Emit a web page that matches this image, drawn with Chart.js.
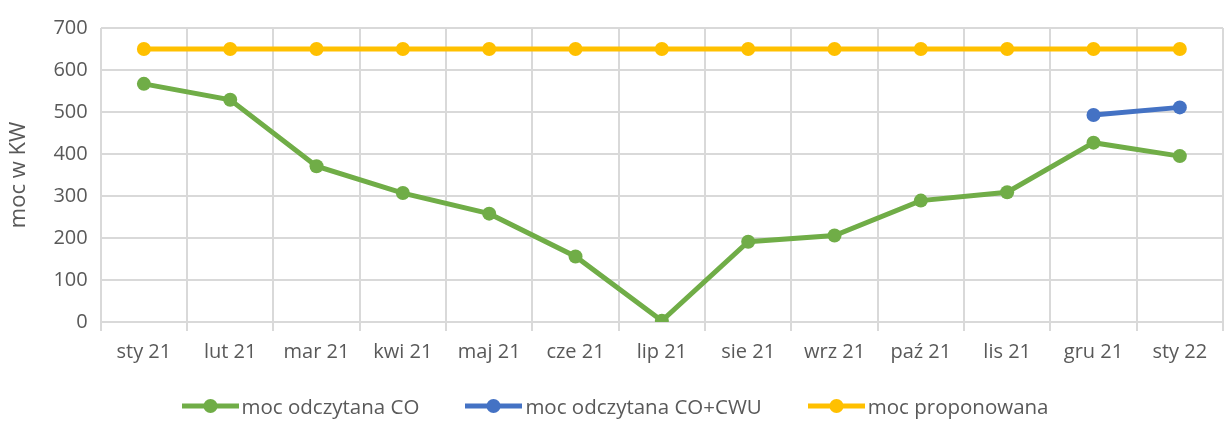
<!DOCTYPE html>
<html>
<head>
<meta charset="utf-8">
<script src="https://cdn.jsdelivr.net/npm/chart.js@4"></script>
<style>
  html, body { margin: 0; padding: 0; background: #fff; }
  #wrap { position: relative; width: 1230px; height: 430px; }
  #legend {
    position: absolute; left: 0; top: 392px; width: 1230px; height: 28px;
    display: flex; justify-content: center; align-items: center; gap: 46px;
    font-family: 'Open Sans', sans-serif; font-size: 20.5px; color: #595959;
  }
  #legend .item { display: flex; align-items: center; gap: 3px; white-space: nowrap; }
  #legend canvas { display: block; }
</style>
</head>
<body>
<div id="wrap">
  <canvas id="line-chart" width="1230" height="430"></canvas>
  <div id="legend"></div>
</div>
<script>
// data
const months = ["sty 21", "lut 21", "mar 21", "kwi 21", "maj 21", "cze 21", "lip 21",
                "sie 21", "wrz 21", "paź 21", "lis 21", "gru 21", "sty 22"];
const mocCO = [567, 529, 371, 307, 258, 156, 3, 191, 206, 289, 309, 427, 395];
const mocCOCWU = [null, null, null, null, null, null, null, null, null, null, null, 493, 511];
const mocProp = [650, 650, 650, 650, 650, 650, 650, 650, 650, 650, 650, 650, 650];
const yTicks = [0, 100, 200, 300, 400, 500, 600, 700];

const GREEN = "#70AD47", BLUE = "#4472C4", YELLOW = "#FFC000";
const FONT = "'Open Sans', sans-serif";
const TEXT = "#595959";

function series(label, data, color) {
    return {
        label: label,
        data: data,
        borderColor: color,
        backgroundColor: color,
        borderWidth: 5,
        pointRadius: 7,
        pointHoverRadius: 7,
        pointBorderWidth: 0,
        tension: 0,
        spanGaps: false
    };
}

const chart = new Chart(document.getElementById("line-chart"), {
    type: 'line',
    data: {
        labels: months,
        datasets: [
            series("moc odczytana CO", mocCO, GREEN),
            series("moc odczytana CO+CWU", mocCOCWU, BLUE),
            series("moc proponowana", mocProp, YELLOW)
        ]
    },
    options: {
        responsive: false,
        animation: false,
        layout: { padding: { left: 6, right: 5, top: 28, bottom: 57 } },
        plugins: {
            legend: { display: false },
            tooltip: { enabled: false }
        },
        scales: {
            x: {
                offset: true,
                grid: { color: "#d9d9d9", lineWidth: 2, offset: true, tickLength: 9, drawTicks: true },
                border: { color: "#d9d9d9", width: 2 },
                ticks: { color: TEXT, font: { family: FONT, size: 20 }, padding: 9, maxRotation: 0 }
            },
            y: {
                min: 0,
                max: 700,
                afterBuildTicks: function (axis) {
                    axis.ticks = yTicks.map(function (v) { return { value: v }; });
                },
                grid: { color: "#d9d9d9", lineWidth: 2, drawTicks: false },
                border: { display: false },
                title: {
                    display: true,
                    text: "moc w KW",
                    color: TEXT,
                    font: { family: FONT, size: 22 },
                    padding: { top: 0, bottom: 8 }
                },
                ticks: { color: TEXT, font: { family: FONT, size: 20 }, padding: 13 }
            }
        }
    }
});

// Excel-like legend: line with a dot, then the label
const legendBox = document.getElementById("legend");
chart.data.datasets.forEach(function (ds) {
    const item = document.createElement("div");
    item.className = "item";
    const mark = document.createElement("canvas");
    mark.width = 57; mark.height = 16;
    const g = mark.getContext("2d");
    g.strokeStyle = ds.borderColor; g.lineWidth = 5;
    g.beginPath(); g.moveTo(0, 8); g.lineTo(57, 8); g.stroke();
    g.fillStyle = ds.borderColor;
    g.beginPath(); g.arc(28.5, 8, 7, 0, Math.PI * 2); g.fill();
    const txt = document.createElement("span");
    txt.textContent = ds.label;
    item.appendChild(mark);
    item.appendChild(txt);
    legendBox.appendChild(item);
});
</script>
</body>
</html>
